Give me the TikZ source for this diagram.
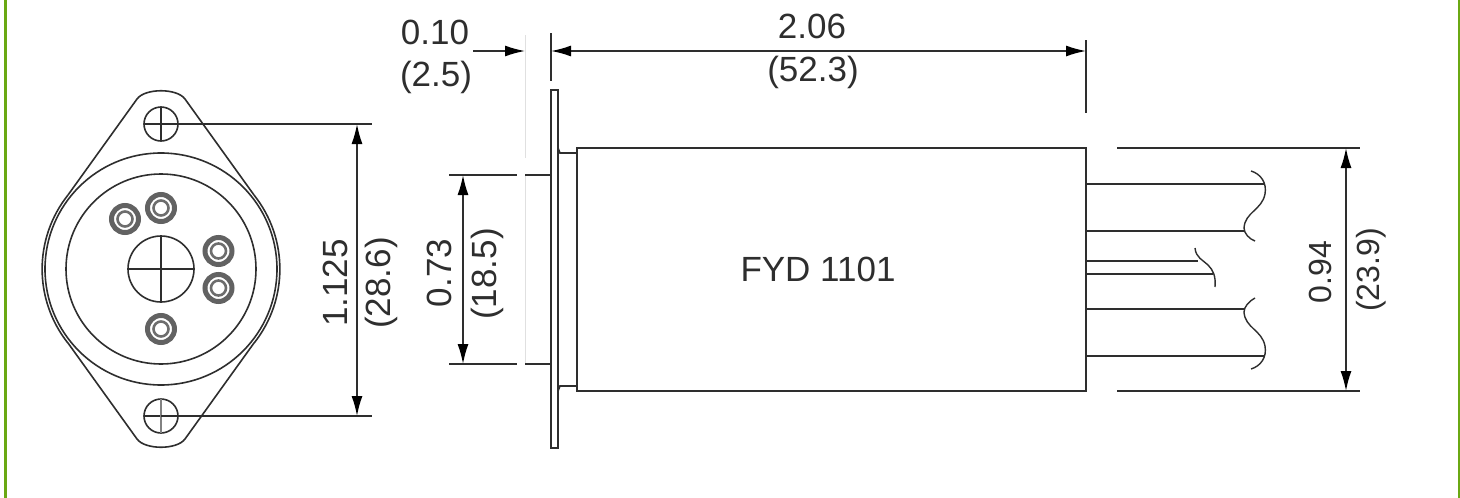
\documentclass[tikz,border=0pt]{standalone}
\usepackage{fontspec}
\setmainfont{Liberation Sans}
\usetikzlibrary{arrows.meta}
\definecolor{frameg}{HTML}{6AA813}
\definecolor{ink}{HTML}{2E2E2E}
\tikzset{
  x=1pt,y=-1pt,
  part/.style={draw=ink,line width=1.6pt},
  dimline/.style={draw=ink,line width=1.6pt},
  dimarrow/.style={dimline,{Latex[length=20pt,width=11pt,black]}-{Latex[length=20pt,width=11pt,black]}},
  onearrow/.style={dimline,-{Latex[length=20pt,width=11pt,black]}},
  ghost/.style={draw=black!12,line width=1pt},
  lbl/.style={font=\fontsize{35}{35}\selectfont,text=ink,inner sep=0pt},
  lblsmall/.style={font=\fontsize{32}{32}\selectfont,text=ink,inner sep=0pt},
  curve/.style={draw=ink,line width=1.4pt},
  pinouter/.style={draw=ink!75,line width=5pt},
  pininner/.style={draw=ink!70,line width=2.6pt},
}
\newcommand{\pinat}[2]{%
  \draw[pinouter] (#1,#2) circle[radius=13.5];
  \draw[pininner] (#1,#2) circle[radius=7.5];
}
\begin{document}
\begin{tikzpicture}
\useasboundingbox (0,0) rectangle (1460,498);
\fill[white] (0,0) rectangle (1460,498);
% frame
\draw[frameg,line width=3pt] (5.5,0) -- (5.5,498);
\draw[frameg,line width=3pt] (1459,0) -- (1459,498);
% --- front view
\coordinate (c) at (161,269);
\coordinate (ht) at (161,124);
\coordinate (hb) at (161,416);
\draw[part] (68,195) -- (137,99) .. controls (145,88) and (177,88) .. (185,99) -- (254,195);
\draw[part] (68,343) -- (137,439) .. controls (145,450) and (177,450) .. (185,439) -- (254,343);
\draw[part] (68,195) arc[start angle=218.5,end angle=141.5,radius=119];
\draw[part] (254,195) arc[start angle=-38.5,end angle=38.5,radius=119];
\draw[part] (c) circle[radius=116];
\draw[part] (c) circle[radius=95];
\draw[part] (c) circle[radius=33];
\draw[part] (128,269) -- (194,269);
\draw[part] (161,236) -- (161,302);
\draw[part] (ht) circle[radius=17];
\draw[part] (144,124) -- (178,124);
\draw[part] (161,107) -- (161,141);
\draw[part] (hb) circle[radius=17];
\draw[part] (144,416) -- (178,416);
\draw[part,draw=ink!60] (161,399) -- (161,433);
\pinat{125}{219}
\pinat{161}{208}
\pinat{218.5}{251}
\pinat{218.5}{288}
\pinat{161}{329}
\coordinate (da) at (357,124);
\coordinate (db) at (357,416);
\draw[dimline] (ht) -- (372,124);
\draw[dimline] (hb) -- (372,416);
\draw[dimarrow] (da) -- (db);
\node[lbl,rotate=90] (n1) at (335,283) {1.125};
\node[lbl,rotate=90] (n2) at (381,283) {(28.6)};
% --- side view
\draw[ghost] (525,35) -- (525,158);
\draw[ghost] (525,175) -- (525,364);
\draw[part] (551,448) -- (551,90) -- (558,90) -- (558,448) -- cycle;
\draw[part] (558,148) -- (560,153) -- (577,153) -- (577,148);
\draw[part] (558,391) -- (560,386) -- (577,386) -- (577,391);
\node[part,minimum width=509pt,minimum height=243pt,inner sep=0pt,outer sep=0pt,anchor=north west] (body) at (577,148) {};
\node[lbl] (fyd) at (818,269) {FYD 1101};
% wires
\coordinate (w1) at (1264,184);
\coordinate (w2) at (1244,231);
\coordinate (w3) at (1198,261);
\coordinate (w4) at (1213,274);
\coordinate (w5) at (1244,309);
\coordinate (w6) at (1264,356);
\foreach \w/\yy in {w1/184,w2/231,w3/261,w4/274,w5/309,w6/356}
  \draw[part] (1086,\yy) -- (\w);
\draw[curve] (1251,171) .. controls (1261,174) and (1267,183) .. (1265,194) .. controls (1262,210) and (1245,212) .. (1244,228) .. controls (1244,233) and (1249,239) .. (1255,241);
\draw[curve] (1251,369) .. controls (1261,366) and (1267,357) .. (1265,346) .. controls (1262,330) and (1245,328) .. (1244,312) .. controls (1244,307) and (1249,301) .. (1255,298);
\draw[curve] (1195,248) .. controls (1196,258) and (1203,260) .. (1208,265) .. controls (1213,270) and (1216,276) .. (1215,287);
% dimensions
\coordinate (t1) at (551,51);
\coordinate (t2) at (1086,51);
\coordinate (t0) at (525,51);
\coordinate (t00) at (473,51);
\draw[dimline] (551,33) -- (551,81);
\draw[dimline] (1086,40) -- (1086,113);
\draw[onearrow] (t00) -- (t0);
\draw[dimarrow] (t1) -- (t2);
\node[lbl] (n3) at (435,32) {0.10};
\node[lbl] (n4) at (436,77) {(2.5)};
\node[lbl] (n5) at (812,26) {2.06};
\node[lbl] (n6) at (813,72) {(52.3)};
\draw[dimline] (449,175) -- (517,175);
\draw[dimline] (525,175) -- (551,175);
\draw[dimline] (449,364) -- (517,364);
\draw[dimline] (525,364) -- (551,364);
\coordinate (e1) at (463,175);
\coordinate (e2) at (463,364);
\draw[dimarrow] (e1) -- (e2);
\node[lbl] (n7) at (439,273) [rotate=90] {0.73};
\node[lbl] (n8) at (487,274) [rotate=90] {(18.5)};
\draw[dimline] (1117,148) -- (1360,148);
\draw[dimline] (1117,391) -- (1360,391);
\coordinate (f1) at (1346,148);
\coordinate (f2) at (1346,391);
\draw[dimarrow] (f1) -- (f2);
\node[lblsmall] (n9) at (1320,272) [rotate=90] {0.94};
\node[lblsmall] (n10) at (1371,270) [rotate=90] {(23.9)};
\end{tikzpicture}
\end{document}
